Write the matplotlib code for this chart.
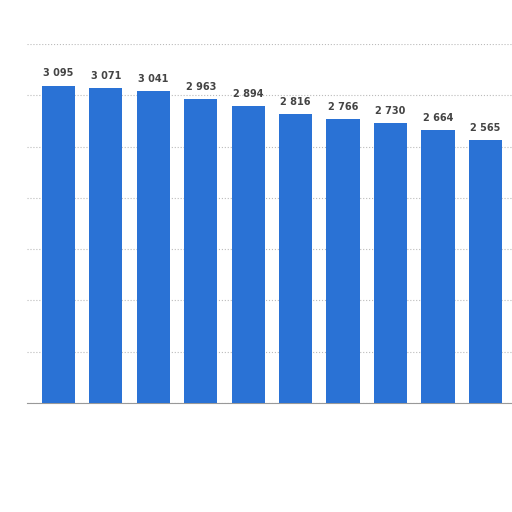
import matplotlib
matplotlib.use('Agg')
import matplotlib.pyplot as plt

ranks = list(range(10))
values = [3095, 3071, 3041, 2963, 2894, 2816, 2766, 2730, 2664, 2565]
labels = [f"{v:,}".replace(",", " ") for v in values]

fig = plt.figure(figsize=(5.12, 5.12), dpi=100)
ax = fig.add_axes([0.053, 0.213, 0.947, 0.701])

bars = ax.bar(ranks, values, width=0.7, color='#2a72d5', zorder=3)
for bar, text in zip(bars, labels):
    ax.text(bar.get_x() + bar.get_width() / 2, bar.get_height() + 70, text,
            ha='center', va='bottom', fontsize=7, fontweight='bold', color='#444444')

ax.set_xlim(-0.66, 9.56)
ax.set_ylim(0, 3500)
ax.set_yticks(range(0, 3501, 500))
ax.yaxis.grid(True, linestyle=':', color='#bbbbbb', linewidth=0.8, zorder=0)
ax.set_xticks([])
ax.tick_params(axis='y', length=0, labelleft=False)
for side in ['top', 'right', 'left']:
    ax.spines[side].set_visible(False)
ax.spines['bottom'].set_color('#999999')

fig.savefig('out.png', dpi=100)
